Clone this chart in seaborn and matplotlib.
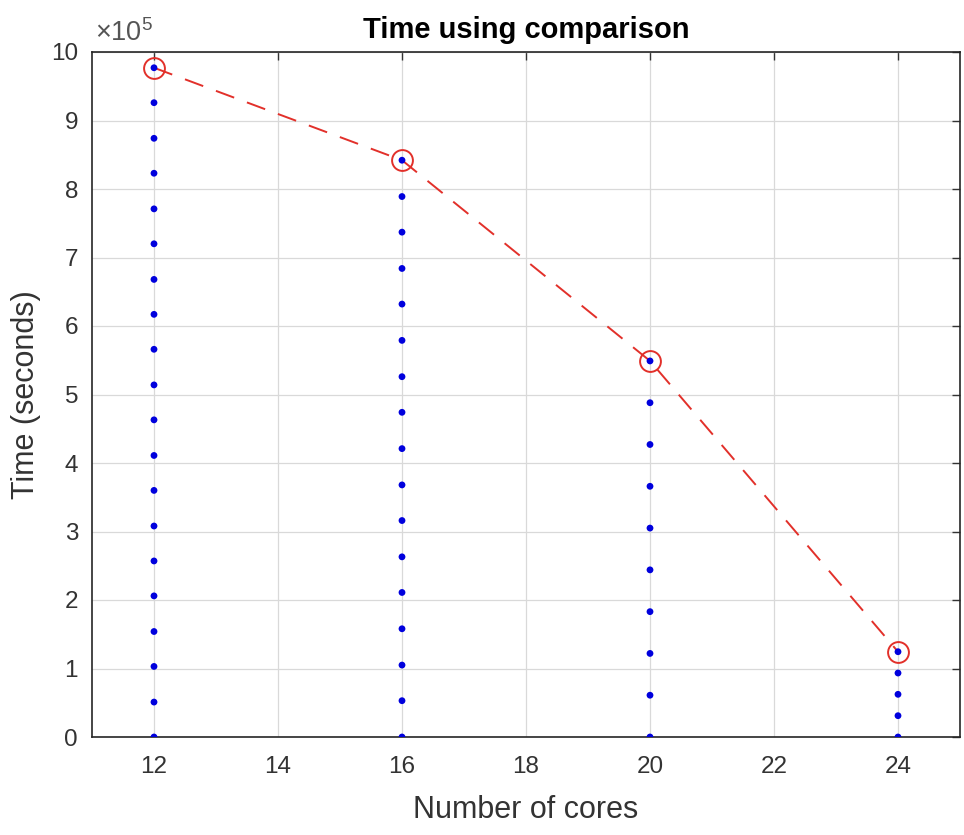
import matplotlib
matplotlib.use("Agg")
import matplotlib.pyplot as plt
import seaborn as sns
import pandas as pd

# ---- data (seconds) ----
cores = [12, 16, 20, 24]
peak_time = [977000, 842000, 549000, 124500]

times_12 = [977000, 926000, 874000, 823000, 771000, 720000, 668000, 617000, 566000, 514000,
            463000, 411000, 360000, 308000, 257000, 206000, 154000, 103000, 51000, 0]
times_16 = [842000, 789000, 737000, 684000, 632000, 579000, 526000, 474000, 421000,
            368000, 316000, 263000, 211000, 158000, 105000, 53000, 0]
times_20 = [549000, 488000, 427000, 366000, 305000, 244000, 183000, 122000, 61000, 0]
times_24 = [124500, 93400, 62300, 31100, 0]

x_ticks = [12, 14, 16, 18, 20, 22, 24]
y_ticks = [0, 100000, 200000, 300000, 400000, 500000, 600000, 700000, 800000, 900000, 1000000]
y_tick_labels = ["0", "1", "2", "3", "4", "5", "6", "7", "8", "9", "10"]

title = "Time using comparison"
xlabel = "Number of cores"
ylabel = "Time (seconds)"
exponent_label = r"$\times10^{5}$"

# ---- build tables ----
dots = pd.DataFrame({
    "cores": [12] * len(times_12) + [16] * len(times_16) + [20] * len(times_20) + [24] * len(times_24),
    "time": times_12 + times_16 + times_20 + times_24,
})
peaks = pd.DataFrame({"cores": cores, "time": peak_time})

sns.set_theme(style="white")
plt.rcParams["font.family"] = ["Liberation Sans", "DejaVu Sans"]
plt.rcParams["mathtext.fontset"] = "custom"
plt.rcParams["mathtext.rm"] = "Liberation Sans"
plt.rcParams["mathtext.it"] = "Liberation Sans"

txt = "#333333"
red = "#e2302a"
fig = plt.figure(figsize=(9.64, 8.35), dpi=100)
ax = fig.add_axes([92 / 964, 1 - 737 / 835, 868 / 964, 685 / 835])

ax.grid(True, color="#d9d9d9", linewidth=0.9, zorder=0)
ax.set_axisbelow(True)

sns.lineplot(data=peaks, x="cores", y="time", ax=ax, color=red, linewidth=1.4,
             linestyle=(0, (10, 7)), marker="o", markersize=15, markerfacecolor="none",
             markeredgecolor=red, markeredgewidth=1.4, zorder=3)
sns.scatterplot(data=dots, x="cores", y="time", ax=ax, color="#0000dd", s=24,
                edgecolor="none", zorder=4)

ax.set_xlim(11, 25)
ax.set_ylim(0, 1000000)
ax.set_xticks(x_ticks)
ax.set_yticks(y_ticks)
ax.set_yticklabels(y_tick_labels)

ax.tick_params(axis="both", which="both", direction="in", length=6, width=1.0,
               top=True, right=True, labelsize=17.5, colors=txt)
ax.tick_params(axis="x", pad=14)
ax.tick_params(axis="y", pad=10)
for sp in ax.spines.values():
    sp.set_color("#262626")
    sp.set_linewidth(1.2)

ax.text(0.004, 1.008, exponent_label, transform=ax.transAxes, fontsize=19.5,
        color="#555555", ha="left", va="bottom")

ax.set_title(title, fontsize=21, fontweight="bold", color="black", pad=10)
ax.set_xlabel(xlabel, fontsize=22, color=txt, labelpad=12)
ax.set_ylabel(ylabel, fontsize=22, color=txt, labelpad=7)

fig.savefig("out.png", dpi=100, facecolor="white")
